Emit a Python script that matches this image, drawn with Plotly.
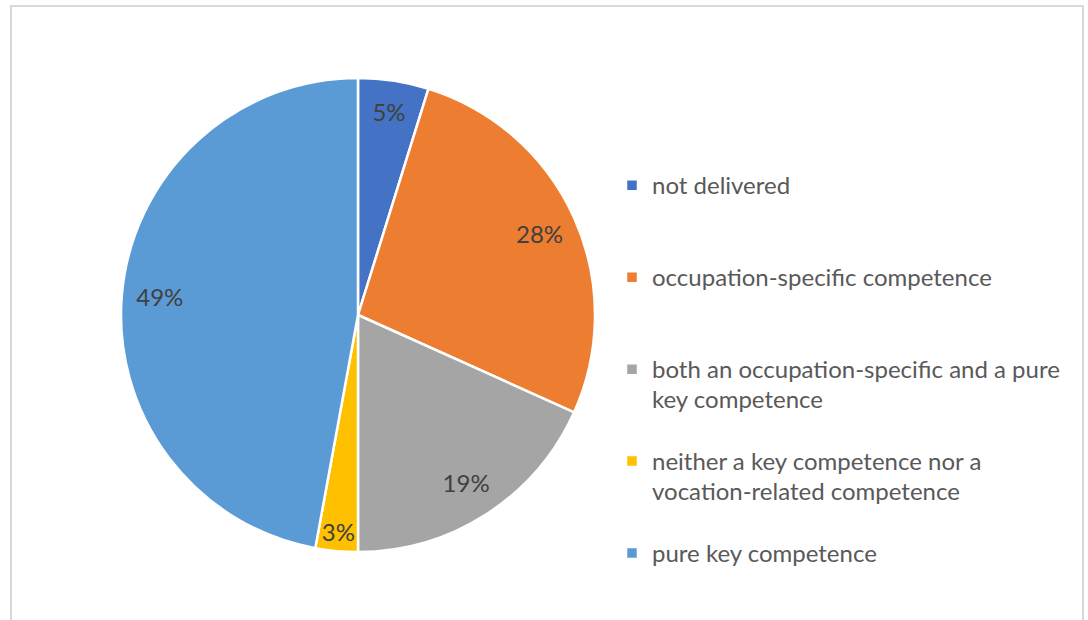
import plotly.graph_objects as go

categories = [
    "not delivered",
    "occupation-specific competence",
    "both an occupation-specific and a pure<br>key competence",
    "neither a key competence nor a<br>vocation-related competence",
    "pure key competence",
]
values = [5, 28, 19, 3, 49]
pct_labels = ["5%", "28%", "19%", "3%", "49%"]
colors = ["#4472C4", "#ED7D31", "#A5A5A5", "#FFC000", "#5B9BD5"]

W, H = 1088, 620
CX, CY, R = 358, 315, 237
domain = dict(
    x=[(CX - R) / W, (CX + R) / W],
    y=[1 - (CY + R) / H, 1 - (CY - R) / H],
)


def legend_label(s, last):
    n = s.count("<br>") + 1
    txt = '<span style="font-size:24px">' + s + "</span>"
    return txt if last else txt + "<br> " * (3 - n)


labels = [legend_label(c, i == len(categories) - 1) for i, c in enumerate(categories)]

fig = go.Figure()
# coloured slices (legend)
fig.add_trace(
    go.Pie(
        labels=labels,
        values=values,
        textinfo="none",
        marker=dict(colors=colors, line=dict(color="white", width=2.5)),
        sort=False,
        direction="clockwise",
        rotation=0,
        domain=domain,
        hoverinfo="skip",
    )
)
# percentage labels placed in the outer ring
fig.add_trace(
    go.Pie(
        labels=labels,
        values=values,
        text=pct_labels,
        textinfo="text",
        textposition="inside",
        insidetextorientation="horizontal",
        textfont=dict(family="Lato", size=24, color="#404040"),
        marker=dict(colors=["rgba(0,0,0,0)"] * len(values), line=dict(width=0)),
        hole=0.68,
        sort=False,
        direction="clockwise",
        rotation=0,
        domain=domain,
        showlegend=False,
        hoverinfo="skip",
    )
)

fig.update_layout(
    width=W,
    height=H,
    margin=dict(l=0, r=0, t=0, b=0),
    paper_bgcolor="white",
    plot_bgcolor="white",
    font=dict(family="Lato", color="#595959"),
    showlegend=True,
    uniformtext=dict(minsize=24, mode="show"),
    legend=dict(
        x=612 / W,
        xanchor="left",
        y=1 - 164 / H,
        yanchor="top",
        valign="top",
        font=dict(family="Lato", size=22.8, color="#595959"),
        bgcolor="rgba(0,0,0,0)",
    ),
    shapes=[
        dict(
            type="rect",
            xref="paper",
            yref="paper",
            x0=11 / W,
            x1=1083 / W,
            y0=-0.2,
            y1=1 - 6 / H,
            line=dict(color="#D9D9D9", width=2),
            fillcolor="rgba(0,0,0,0)",
            layer="below",
        )
    ],
)

fig.write_html("out.html")
